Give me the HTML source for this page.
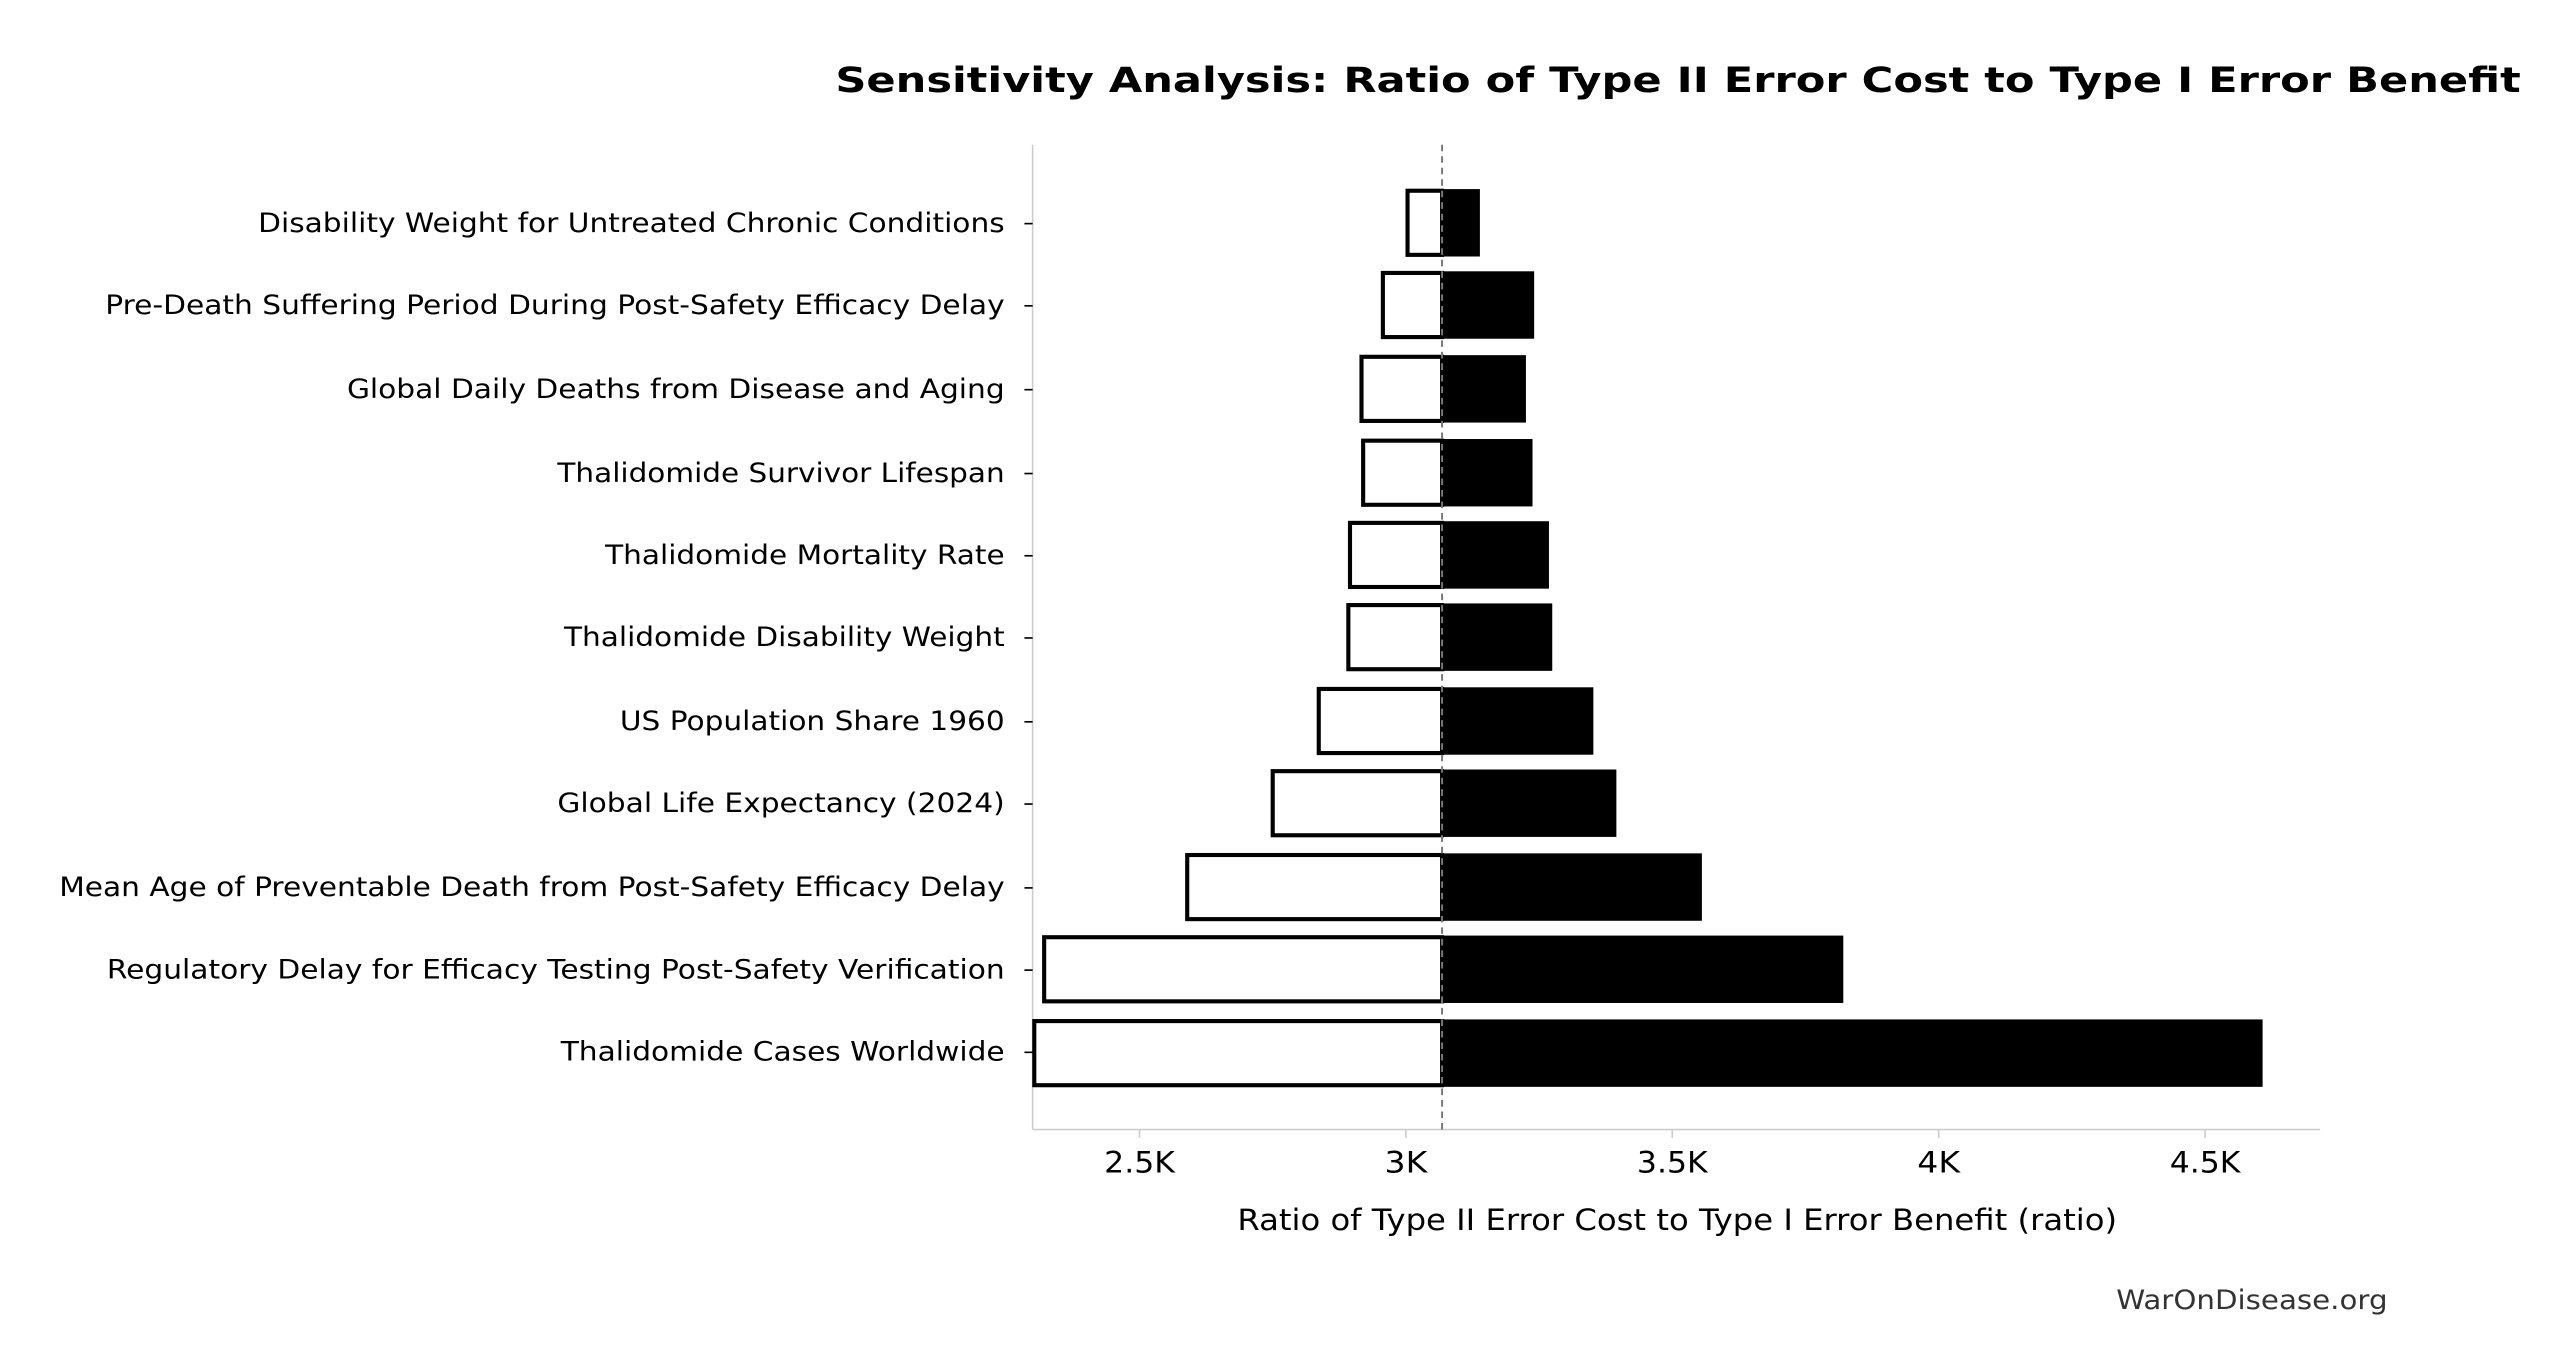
<!DOCTYPE html>
<html><head><meta charset="utf-8"><style>html,body{margin:0;padding:0;background:#fff}svg{display:block}</style></head>
<body>
<svg width="2552" height="1357" viewBox="0 0 1552 825.3" preserveAspectRatio="none" xmlns="http://www.w3.org/2000/svg" font-family="DejaVu Sans, Liberation Sans, sans-serif">
<rect width="1552" height="826" fill="#fff"/>
<text x="508" y="56" font-size="21" font-weight="bold" textLength="1025" lengthAdjust="spacingAndGlyphs">Sensitivity Analysis: Ratio of Type II Error Cost to Type I Error Benefit</text>
<line x1="628" y1="88" x2="628" y2="687" stroke="#ccc" stroke-width="1"/>
<line x1="628" y1="687" x2="1411" y2="687" stroke="#ccc" stroke-width="1"/>
<g stroke="#000" stroke-width="2.5">
<rect x="856" y="116" width="21" height="39" fill="#fff"/>
<rect x="841" y="166" width="36" height="39" fill="#fff"/>
<rect x="828" y="217" width="49" height="39" fill="#fff"/>
<rect x="829" y="268" width="48" height="39" fill="#fff"/>
<rect x="821" y="318" width="56" height="39" fill="#fff"/>
<rect x="820" y="368" width="57" height="39" fill="#fff"/>
<rect x="802" y="419" width="75" height="39" fill="#fff"/>
<rect x="774" y="469" width="103" height="39" fill="#fff"/>
<rect x="722" y="520" width="155" height="39" fill="#fff"/>
<rect x="635" y="570" width="242" height="39" fill="#fff"/>
<rect x="629" y="621" width="248" height="39" fill="#fff"/>
</g>
<g fill="#000">
<rect x="877" y="115" width="23" height="41"/>
<rect x="877" y="165" width="56" height="41"/>
<rect x="877" y="216" width="51" height="41"/>
<rect x="877" y="267" width="55" height="41"/>
<rect x="877" y="317" width="65" height="41"/>
<rect x="877" y="367" width="67" height="41"/>
<rect x="877" y="418" width="92" height="41"/>
<rect x="877" y="468" width="106" height="41"/>
<rect x="877" y="519" width="158" height="41"/>
<rect x="877" y="569" width="244" height="41"/>
<rect x="877" y="620" width="499" height="41"/>
</g>
<line x1="877" y1="88" x2="877" y2="687" stroke="#777" stroke-width="1.2" stroke-dasharray="4,3"/>
<g stroke="#000" stroke-width="1">
<line x1="623" y1="136" x2="628" y2="136"/><line x1="623" y1="186" x2="628" y2="186"/><line x1="623" y1="237" x2="628" y2="237"/><line x1="623" y1="288" x2="628" y2="288"/><line x1="623" y1="338" x2="628" y2="338"/><line x1="623" y1="388" x2="628" y2="388"/><line x1="623" y1="439" x2="628" y2="439"/><line x1="623" y1="489" x2="628" y2="489"/><line x1="623" y1="540" x2="628" y2="540"/><line x1="623" y1="590" x2="628" y2="590"/><line x1="623" y1="640" x2="628" y2="640"/>
</g>
<g stroke="#ccc" stroke-width="1">
<line x1="693" y1="687" x2="693" y2="692"/><line x1="855" y1="687" x2="855" y2="692"/><line x1="1017" y1="687" x2="1017" y2="692"/><line x1="1179" y1="687" x2="1179" y2="692"/><line x1="1341" y1="687" x2="1341" y2="692"/>
</g>
<g font-size="16" text-anchor="end" fill="#000">
<text x="611" y="141" textLength="454" lengthAdjust="spacingAndGlyphs">Disability Weight for Untreated Chronic Conditions</text>
<text x="611" y="191" textLength="547" lengthAdjust="spacingAndGlyphs">Pre-Death Suffering Period During Post-Safety Efficacy Delay</text>
<text x="611" y="242" textLength="400" lengthAdjust="spacingAndGlyphs">Global Daily Deaths from Disease and Aging</text>
<text x="611" y="293" textLength="272" lengthAdjust="spacingAndGlyphs">Thalidomide Survivor Lifespan</text>
<text x="611" y="343" textLength="243" lengthAdjust="spacingAndGlyphs">Thalidomide Mortality Rate</text>
<text x="611" y="393" textLength="268" lengthAdjust="spacingAndGlyphs">Thalidomide Disability Weight</text>
<text x="611" y="444" textLength="234" lengthAdjust="spacingAndGlyphs">US Population Share 1960</text>
<text x="611" y="494" textLength="272" lengthAdjust="spacingAndGlyphs">Global Life Expectancy (2024)</text>
<text x="611" y="545" textLength="575" lengthAdjust="spacingAndGlyphs">Mean Age of Preventable Death from Post-Safety Efficacy Delay</text>
<text x="611" y="595" textLength="546" lengthAdjust="spacingAndGlyphs">Regulatory Delay for Efficacy Testing Post-Safety Verification</text>
<text x="611" y="645" textLength="270" lengthAdjust="spacingAndGlyphs">Thalidomide Cases Worldwide</text>
</g>
<g font-size="18" text-anchor="middle" fill="#000">
<text x="693" y="713" textLength="43" lengthAdjust="spacingAndGlyphs">2.5K</text><text x="855" y="713" textLength="26" lengthAdjust="spacingAndGlyphs">3K</text><text x="1017" y="713" textLength="43" lengthAdjust="spacingAndGlyphs">3.5K</text><text x="1179" y="713" textLength="26" lengthAdjust="spacingAndGlyphs">4K</text><text x="1341" y="713" textLength="43" lengthAdjust="spacingAndGlyphs">4.5K</text>
</g>
<text x="1020" y="748" font-size="18" text-anchor="middle" textLength="535" lengthAdjust="spacingAndGlyphs">Ratio of Type II Error Cost to Type I Error Benefit (ratio)</text>
<text x="1452" y="796" font-size="16" text-anchor="end" fill="#333" textLength="165" lengthAdjust="spacingAndGlyphs">WarOnDisease.org</text>
</svg>
</body></html>
